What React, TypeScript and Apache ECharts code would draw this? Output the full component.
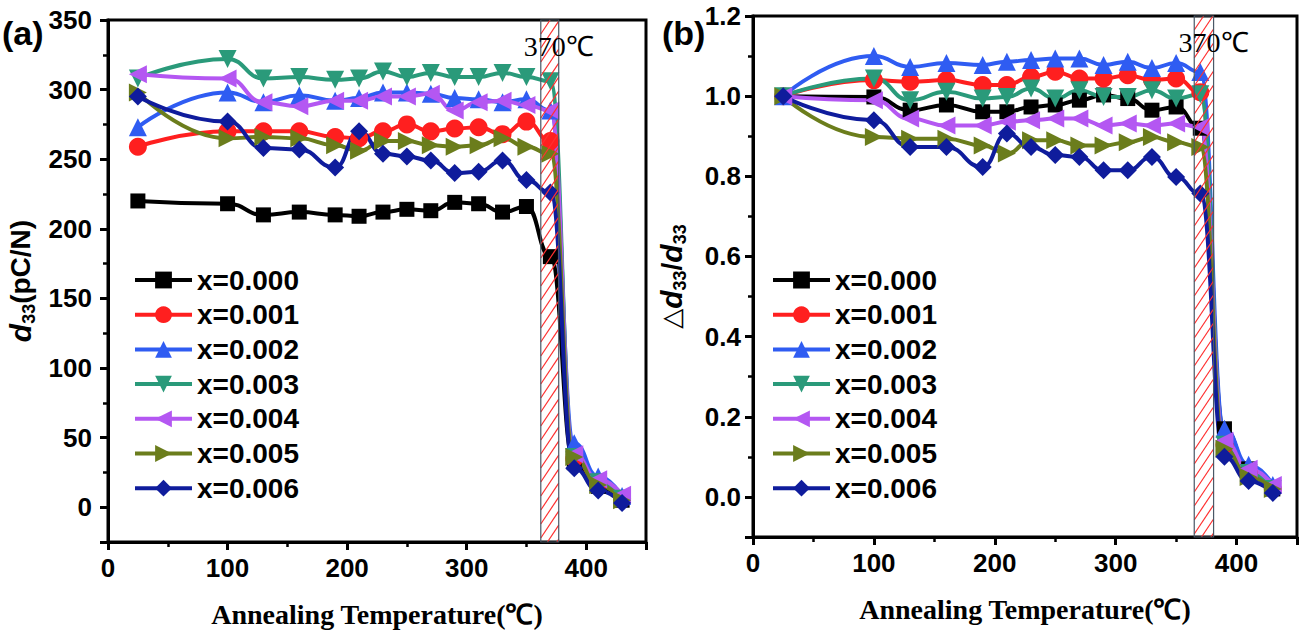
import React, { useEffect, useRef } from "react";
import * as echarts from "echarts";

// ---- data ----
const TEMPS = [25, 100, 130, 160, 190, 210, 230, 250, 270, 290, 310, 330, 350, 370, 390, 410, 430];
const NAMES = ["x=0.000", "x=0.001", "x=0.002", "x=0.003", "x=0.004", "x=0.005", "x=0.006"];

// panel (a): d33 (pC/N)
const D33_000 = [220, 218, 210, 212, 210, 209, 212, 214, 213, 219, 218, 212, 216, 180, 32, 15, 5];
const D33_001 = [259, 270, 270, 270, 266, 265, 270, 275, 270, 272, 273, 268, 277, 263, 35, 17, 6];
const D33_002 = [273, 298, 291, 296, 292, 294, 298, 298, 297, 294, 293, 291, 293, 285, 46, 22, 8];
const D33_003 = [308, 322, 308, 309, 307, 308, 313, 309, 312, 309, 309, 312, 309, 306, 36, 18, 6];
const D33_004 = [311, 308, 291, 288, 292, 292, 295, 295, 297, 285, 291, 292, 289, 285, 38, 20, 9];
const D33_005 = [298, 265, 266, 265, 260, 256, 263, 263, 260, 259, 260, 265, 259, 254, 36, 16, 5];
const D33_006 = [295, 277, 258, 257, 244, 270, 254, 252, 249, 240, 241, 249, 235, 226, 28, 12, 3];

// panel (b): normalised d33
const N_000 = [1.0, 0.998, 0.965, 0.978, 0.961, 0.961, 0.973, 0.978, 0.99, 1.003, 0.994, 0.965, 0.973, 0.92, 0.17, 0.07, 0.02];
const N_001 = [1.0, 1.04, 1.036, 1.04, 1.028, 1.028, 1.048, 1.061, 1.044, 1.044, 1.052, 1.04, 1.044, 1.01, 0.13, 0.06, 0.02];
const N_002 = [1.0, 1.1, 1.073, 1.083, 1.078, 1.086, 1.09, 1.094, 1.094, 1.078, 1.086, 1.07, 1.083, 1.06, 0.17, 0.08, 0.03];
const N_003 = [1.0, 1.044, 0.99, 1.011, 0.994, 0.998, 1.019, 0.994, 1.015, 0.998, 0.998, 1.015, 0.994, 1.005, 0.13, 0.06, 0.02];
const N_004 = [1.0, 0.99, 0.944, 0.927, 0.927, 0.936, 0.94, 0.944, 0.944, 0.927, 0.932, 0.927, 0.932, 0.923, 0.14, 0.07, 0.03];
const N_005 = [1.0, 0.898, 0.894, 0.894, 0.877, 0.857, 0.89, 0.89, 0.877, 0.877, 0.885, 0.898, 0.885, 0.873, 0.12, 0.05, 0.02];
const N_006 = [1.0, 0.94, 0.873, 0.873, 0.823, 0.907, 0.873, 0.853, 0.848, 0.815, 0.815, 0.848, 0.798, 0.757, 0.1, 0.04, 0.01];

const D33_SETS = [D33_000, D33_001, D33_002, D33_003, D33_004, D33_005, D33_006];
const N_SETS = [N_000, N_001, N_002, N_003, N_004, N_005, N_006];

// Curie-region band and label
const BAND_A = [362, 377];
const BAND_B = [365, 381];
const BAND_LABEL = "370\u2103";

// ---- styles ----
const COLORS = ["#000000", "#ff1f1f", "#2f5cf2", "#2a9a7a", "#b457f2", "#6b7d1c", "#0f1c9c"];
const SYMBOLS = ["rect", "circle", "triangle", "triangle", "triangle", "triangle", "diamond"];
const ROTATES = [0, 0, 0, 180, 90, -90, 0];

const SANS = "Liberation Sans, Arial, sans-serif";
const SERIF = "Liberation Serif, Times New Roman, serif";

function bandSeries(idx: number, range: number[]) {
  return {
    type: "custom",
    xAxisIndex: idx,
    yAxisIndex: idx,
    z: 10,
    silent: true,
    clip: false,
    data: [range],
    renderItem: (params: any, api: any) => {
      const cs = params.coordSys;
      const xa = api.coord([api.value(0), 0])[0];
      const xb = api.coord([api.value(1), 0])[0];
      const top = cs.y;
      const bottom = cs.y + cs.height;
      const k = 1.5;
      const step = 14;
      const children: any[] = [];
      for (let b = top + k * xa; b <= bottom + k * xb; b += step) {
        const x1 = Math.max(xa, (b - bottom) / k);
        const x2 = Math.min(xb, (b - top) / k);
        if (x2 <= x1) continue;
        children.push({
          type: "line",
          shape: { x1, y1: b - k * x1, x2, y2: b - k * x2 },
          style: { stroke: "#ff3030", lineWidth: 1.2 },
        });
      }
      children.push({
        type: "rect",
        shape: { x: xa, y: top, width: xb - xa, height: bottom - top },
        style: { fill: "none", stroke: "#4a5866", lineWidth: 1.2 },
      });
      children.push({
        type: "text",
        style: {
          x: xb,
          y: top + 12,
          text: BAND_LABEL,
          font: "28px " + SERIF,
          fill: "#000",
          textAlign: "center",
          textVerticalAlign: "top",
        },
      });
      return { type: "group", children };
    },
  };
}

function lineSeries(idx: number, sets: number[][]) {
  return sets.map((vals, i) => ({
    type: "line",
    name: NAMES[i],
    xAxisIndex: idx,
    yAxisIndex: idx,
    data: TEMPS.map((t, j) => [t, vals[j]]),
    smooth: 0.5,
    smoothMonotone: "x",
    symbol: SYMBOLS[i],
    symbolRotate: ROTATES[i],
    symbolSize: i === 0 ? 15 : 18,
    showAllSymbol: true,
    lineStyle: { width: 4, color: COLORS[i] },
    itemStyle: { color: COLORS[i] },
  }));
}

function xAxis(idx: number) {
  return {
    type: "value",
    gridIndex: idx,
    min: 0,
    max: 450,
    interval: 100,
    name: "Annealing Temperature(\u2103)",
    nameLocation: "middle",
    nameGap: 58,
    nameTextStyle: { fontFamily: SERIF, fontWeight: "bold", fontSize: 28, color: "#000" },
    axisLine: { show: true, onZero: false, lineStyle: { color: "#000", width: 3 } },
    axisTick: { show: true, length: 8, lineStyle: { color: "#000", width: 3 } },
    minorTick: { show: true, splitNumber: 2, length: 5, lineStyle: { color: "#000", width: 2.5 } },
    axisLabel: {
      fontFamily: SANS,
      fontWeight: "bold",
      fontSize: 26,
      color: "#000",
      margin: 13,
      formatter: (v: number) => (v > 400 ? "" : String(v)),
    },
    splitLine: { show: false },
  };
}

function legend(left: number) {
  return {
    orient: "vertical",
    left,
    top: 261,
    data: NAMES,
    itemWidth: 57,
    itemHeight: 21,
    itemGap: 6.7,
    lineStyle: { width: 4 },
    textStyle: { fontFamily: SANS, fontWeight: "bold", fontSize: 28, color: "#000", lineHeight: 28 },
    selectedMode: false,
  };
}

const option: any = {
  animation: false,
  backgroundColor: "#ffffff",
  grid: [
    { left: 108, top: 20, width: 538, height: 522, show: true, borderColor: "#000", borderWidth: 3, containLabel: false },
    { left: 753, top: 16, width: 544, height: 521, show: true, borderColor: "#000", borderWidth: 3, containLabel: false },
  ],
  xAxis: [xAxis(0), xAxis(1)],
  yAxis: [
    {
      type: "value",
      gridIndex: 0,
      min: -25,
      max: 350,
      splitNumber: 7,
      name: "{d|d}{s|33}{n|(pC/N)}",
      nameLocation: "middle",
      nameRotate: 90,
      nameGap: 70,
      nameTextStyle: {
        fontFamily: SANS,
        fontWeight: "bold",
        fontSize: 28,
        color: "#000",
        rich: {
          d: { fontFamily: SANS, fontWeight: "bold", fontStyle: "italic", fontSize: 30, lineHeight: 36, verticalAlign: "middle", color: "#000" },
          s: { fontFamily: SANS, fontWeight: "bold", fontSize: 18, lineHeight: 36, verticalAlign: "bottom", color: "#000" },
          n: { fontFamily: SANS, fontWeight: "bold", fontSize: 28, lineHeight: 36, verticalAlign: "middle", color: "#000" },
        },
      },
      axisLine: { show: true, onZero: false, lineStyle: { color: "#000", width: 3 } },
      axisTick: { show: true, length: 8, lineStyle: { color: "#000", width: 3 } },
      minorTick: { show: true, splitNumber: 2, length: 5, lineStyle: { color: "#000", width: 2.5 } },
      axisLabel: {
        fontFamily: SANS,
        fontWeight: "bold",
        fontSize: 26,
        color: "#000",
        margin: 16,
        formatter: (v: number) => (v < 0 ? "" : String(v)),
      },
      splitLine: { show: false },
    },
    {
      type: "value",
      gridIndex: 1,
      min: -0.1,
      max: 1.2,
      splitNumber: 7,
      name: "{t|\u25B3}{d|d}{s|33}{n|/}{d|d}{s|33}",
      nameLocation: "middle",
      nameRotate: 90,
      nameGap: 64,
      nameTextStyle: {
        fontFamily: SANS,
        fontWeight: "bold",
        fontSize: 28,
        color: "#000",
        rich: {
          t: { fontFamily: "DejaVu Sans, sans-serif", fontSize: 26, lineHeight: 36, verticalAlign: "middle", color: "#000" },
          d: { fontFamily: SANS, fontWeight: "bold", fontStyle: "italic", fontSize: 30, lineHeight: 36, verticalAlign: "middle", color: "#000" },
          s: { fontFamily: SANS, fontWeight: "bold", fontSize: 18, lineHeight: 36, verticalAlign: "bottom", color: "#000" },
          n: { fontFamily: SANS, fontWeight: "bold", fontSize: 28, lineHeight: 36, verticalAlign: "middle", color: "#000" },
        },
      },
      axisLine: { show: true, onZero: false, lineStyle: { color: "#000", width: 3 } },
      axisTick: { show: true, length: 8, lineStyle: { color: "#000", width: 3 } },
      minorTick: { show: true, splitNumber: 2, length: 5, lineStyle: { color: "#000", width: 2.5 } },
      axisLabel: {
        fontFamily: SANS,
        fontWeight: "bold",
        fontSize: 26,
        color: "#000",
        margin: 12,
        formatter: (v: number) => (v < 0 ? "" : v.toFixed(1)),
      },
      splitLine: { show: false },
    },
  ],
  legend: [legend(128), legend(766)],
  graphic: [
    { type: "text", left: 2, top: 16, style: { text: "(a)", font: "bold 34px " + SANS, fill: "#000" } },
    { type: "text", left: 662, top: 16, style: { text: "(b)", font: "bold 34px " + SANS, fill: "#000" } },
  ],
  series: [
    ...lineSeries(0, D33_SETS),
    ...lineSeries(1, N_SETS),
    bandSeries(0, BAND_A),
    bandSeries(1, BAND_B),
  ],
};

export default function App() {
  const ref = useRef<HTMLDivElement>(null);
  useEffect(() => {
    if (!ref.current) return;
    const chart = echarts.init(ref.current, undefined, { renderer: "svg" });
    chart.setOption(option);
    return () => chart.dispose();
  }, []);
  return (
    <div
      ref={ref}
      style={{ position: "absolute", left: 0, top: 0, width: 1301, height: 638, background: "#fff" }}
    />
  );
}
